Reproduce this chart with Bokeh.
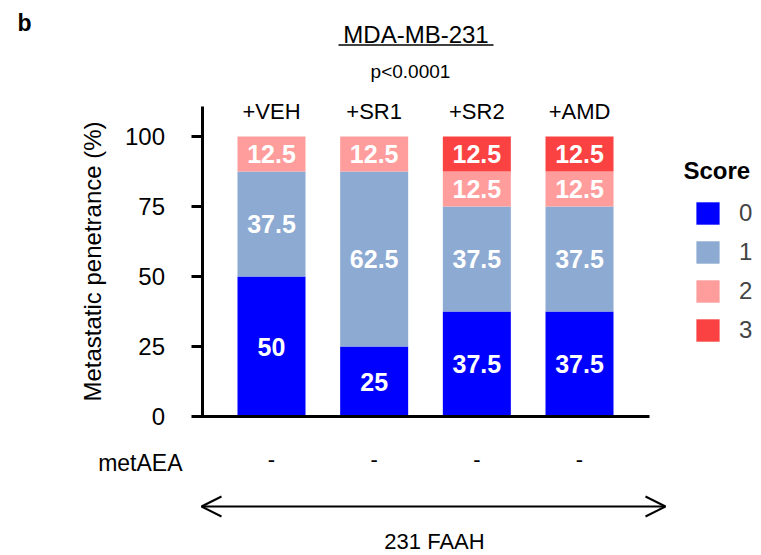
from bokeh.plotting import figure
from bokeh.models import (Range1d, FixedTicker, LabelSet, Arrow,
                          OpenHead, Legend, LegendItem, ColumnDataSource)
from bokeh.core.properties import value
from bokeh.embed import file_html
from bokeh.resources import INLINE

# ---- data ----
categories = ["+VEH", "+SR1", "+SR2", "+AMD"]
score0 = [50, 25, 37.5, 37.5]
score1 = [37.5, 62.5, 37.5, 37.5]
score2 = [12.5, 12.5, 12.5, 12.5]
score3 = [0, 0, 12.5, 12.5]
score_labels = ["0", "1", "2", "3"]
metAEA = ["-", "-", "-", "-"]
y_ticks = [0, 25, 50, 75, 100]
title_text = "MDA-MB-231"
p_text = "p<0.0001"
group_text = "231 FAAH"

colors = ["#0000FF", "#8DAAD2", "#FF9D9D", "#FB4242"]
FONT = "Liberation Sans"

# ---- layout geometry (canvas pixels) ----
W, H = 761, 555
X0PX, SX = 271.0, 102.67      # pixel of first bar centre, pixels per category
Y0PX, SY = 416.0, 2.8         # pixel of y=0, pixels per percent
AX_LEFT, AX_RIGHT, AX_TOP = 201, 649, 106


def xd(px):
    return (px - X0PX) / SX


def yd(py):
    return (Y0PX - py) / SY


p = figure(width=W, height=H, output_backend="svg", toolbar_location=None,
           x_range=Range1d(xd(0), xd(W)), y_range=Range1d(yd(H), yd(0)),
           min_border=0)
p.outline_line_color = None
p.grid.visible = False
p.background_fill_color = "white"
p.border_fill_color = "white"

xpos = list(range(len(categories)))
src = ColumnDataSource(dict(x=xpos, cat=categories, s0=score0, s1=score1, s2=score2, s3=score3))
stackers = ["s0", "s1", "s2", "s3"]
rends = p.vbar_stack(stackers, x="x", width=68 / SX, source=src,
                     fill_color=colors, line_color=None)

# segment value labels
lx, ly, lt = [], [], []
series = [score0, score1, score2, score3]
for i in xpos:
    base = 0
    for s in series:
        v = s[i]
        if v > 0:
            lx.append(i)
            ly.append(base + v / 2)
            lt.append(f"{v:g}")
        base += v
lab_src = ColumnDataSource(dict(x=lx, y=ly, t=lt))
p.add_layout(LabelSet(x="x", y="y", text="t", source=lab_src, text_align="center",
                      text_baseline="middle", text_color="white", text_font=value(FONT),
                      text_font_size="25px", text_font_style="bold"))

# axes (fixed inside the full-canvas frame)
ya = p.yaxis[0]
ya.fixed_location = xd(AX_LEFT + 0.5)
ya.bounds = (0, yd(AX_TOP))
ya.ticker = FixedTicker(ticks=y_ticks)
ya.minor_tick_line_color = None
ya.major_tick_in = 0
ya.major_tick_out = 11
ya.major_tick_line_width = 3
ya.axis_line_width = 3
ya.major_label_standoff = 26
ya.major_label_text_font = FONT
ya.major_label_text_font_size = "24px"
ya.major_label_text_color = "black"
ya.axis_label = "Metastatic penetrance (%)"
ya.axis_label_text_font = FONT
ya.axis_label_text_font_size = "24px"
ya.axis_label_text_font_style = "normal"
ya.axis_label_text_color = "black"
ya.axis_label_standoff = 16

xa = p.xaxis[0]
xa.fixed_location = 0
xa.bounds = (xd(AX_LEFT), xd(AX_RIGHT))
xa.ticker = FixedTicker(ticks=[])
xa.axis_line_width = 3
xa.major_tick_line_color = None
xa.minor_tick_line_color = None
xa.major_label_text_color = None

# group labels on top and metAEA row
top_src = ColumnDataSource(dict(x=xpos, t=categories, m=metAEA))
p.add_layout(LabelSet(x="x", y=yd(118), text="t", source=top_src,
                      text_align="center", text_baseline="alphabetic",
                      text_font=value(FONT), text_font_size="22px", text_color="black"))
p.add_layout(LabelSet(x="x", y=yd(466), text="m", source=top_src,
                      text_align="center", text_baseline="alphabetic",
                      text_font=value(FONT), text_font_size="22px", text_color="black"))


def lab(text, px, py, size, align="left", style="normal"):
    s = ColumnDataSource(dict(x=[xd(px)], y=[yd(py)], t=[text]))
    p.add_layout(LabelSet(x="x", y="y", text="t", source=s,
                          text_align=align, text_baseline="alphabetic",
                          text_font=value(FONT), text_font_size=size,
                          text_font_style=style, text_color="black"))


lab("b", 17, 30, "23px", style="bold")
lab(title_text, 415.5, 42, "24px", align="center")
lab(p_text, 410, 77, "19px", align="center")
lab("metAEA", 182, 470, "23px", align="right")
lab(group_text, 434, 548, "22px", align="center")
lab("Score", 683, 178, "24px", style="bold")

# underline of title
p.add_layout(Arrow(x_start=338, y_start=H - 44.5, x_end=493, y_end=H - 44.5,
                   start_units="screen", end_units="screen", start=None, end=None,
                   line_width=1.5, line_color="black"))
# double arrow
p.add_layout(Arrow(x_start=201, y_start=H - 506, x_end=665, y_end=H - 506,
                   start_units="screen", end_units="screen",
                   start=OpenHead(size=20, line_width=2), end=OpenHead(size=20, line_width=2),
                   line_width=2, line_color="black"))

legend = Legend(items=[LegendItem(label=l, renderers=[r]) for l, r in zip(score_labels, rends)],
                location=(693, H - 344), padding=0, margin=0, spacing=11,
                glyph_width=29, glyph_height=28, label_standoff=17,
                label_text_font=FONT, label_text_font_size="24px",
                border_line_color=None, background_fill_alpha=0)
p.add_layout(legend)

open("out.html", "w").write(file_html(p, INLINE))
